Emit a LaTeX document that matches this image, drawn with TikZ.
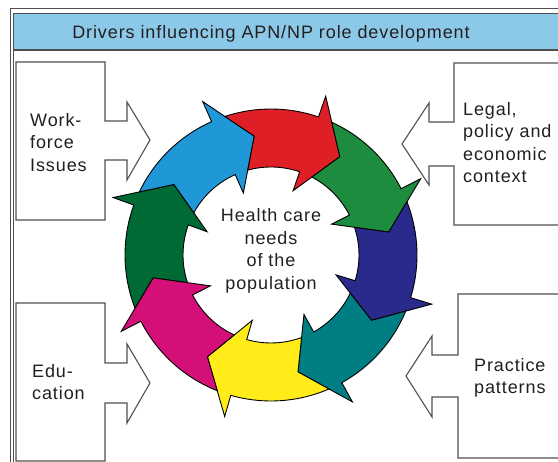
\documentclass[tikz,border=0pt]{standalone}
\usepackage{fontspec}
\setmainfont{Liberation Sans}[LetterSpace=5]
\definecolor{hdrblue}{RGB}{140,201,232}
\definecolor{arrlblue}{RGB}{32,152,216}
\definecolor{arrred}{RGB}{222,32,38}
\definecolor{arrgreen}{RGB}{30,140,62}
\definecolor{arrnavy}{RGB}{42,42,140}
\definecolor{arrteal}{RGB}{0,126,132}
\definecolor{arryellow}{RGB}{255,236,24}
\definecolor{arrmagenta}{RGB}{212,16,120}
\definecolor{arrdkgreen}{RGB}{0,106,52}
\definecolor{txtgray}{RGB}{35,31,32}
\definecolor{linegray}{RGB}{80,80,80}

\begin{document}
\begin{tikzpicture}[x=1pt,y=1pt,
    panel/.style={draw=linegray,line width=1.1pt,fill=white},
    lbl/.style={font=\fontsize{18}{22.5}\selectfont,text=txtgray,inner sep=0pt,align=left}]
  \useasboundingbox (0,0) rectangle (558,462);
  % frame and header
  \fill[hdrblue] (13,448.5) rectangle (570,412);
  \draw[linegray,line width=1pt] (10,-5) -- (10,453) -- (570,453);
  \draw[linegray,line width=1pt] (13,-5) -- (13,448.5) -- (570,448.5);
  \draw[linegray,line width=1.2pt] (13,412) -- (570,412);
  \node[lbl,anchor=base] (title) at (271,423) {Drivers influencing APN/NP role development};
  % driver boxes
  \draw[panel] (16,400) -- (105,400) -- (105,341) -- (127,341) -- (127,360) -- (150,322)
    -- (127,282) -- (127,302) -- (105,302) -- (105,242) -- (16,242) -- cycle;
  \draw[panel] (570,399) -- (454,399) -- (454,340) -- (429,340) -- (429,359) -- (402,318)
    -- (429,277) -- (429,296) -- (454,296) -- (454,237) -- (570,237);
  \draw[panel] (16,1) -- (16,159) -- (105,159) -- (105,99) -- (127,99) -- (127,118) -- (150,79)
    -- (127,39) -- (127,59) -- (105,59) -- (105,1) -- cycle;
  \draw[panel] (570,168) -- (458,168) -- (458,107) -- (432,107) -- (432,126) -- (406,86)
    -- (432,45) -- (432,65) -- (458,65) -- (458,4) -- (570,4);
  \node[lbl,anchor=north west] (workforce) at (30,349) {Work-\\force\\Issues};
  \node[lbl,anchor=north west] (legal) at (463,360) {Legal,\\policy and\\economic\\context};
  \node[lbl,anchor=north west] (education) at (32,98) {Edu-\\cation};
  \node[lbl,anchor=north west] (practice) at (474,104) {Practice\\patterns};
  % cycle of arrows: tip angle / tip angle of the arrow before / colour
  \begin{scope}[shift={(271,207)}]
    \foreach \t/\p/\c in {144/191/arrdkgreen,98/144/arrlblue,55/98/arrred,11/55/arrgreen,
                          -33/11/arrnavy,-77/-33/arrteal,-122/-77/arryellow,-169/-122/arrmagenta}
      \filldraw[fill=\c,draw=black,line width=0.9pt,line join=miter]
        ({\p+10.4}:146) arc[start angle={\p+10.4},end angle={\t+16},radius=146]
        -- ({\t+16}:168) -- (\t:120) -- ({\t+16}:68) -- ({\t+16}:88)
        arc[start angle={\t+16},end angle={\p+7.3},radius=88] -- (\p:120) -- cycle;
  \end{scope}
  \node[lbl,align=center] (needs) at (271,211) {Health care\\needs\\of the\\population};
\end{tikzpicture}
\end{document}
